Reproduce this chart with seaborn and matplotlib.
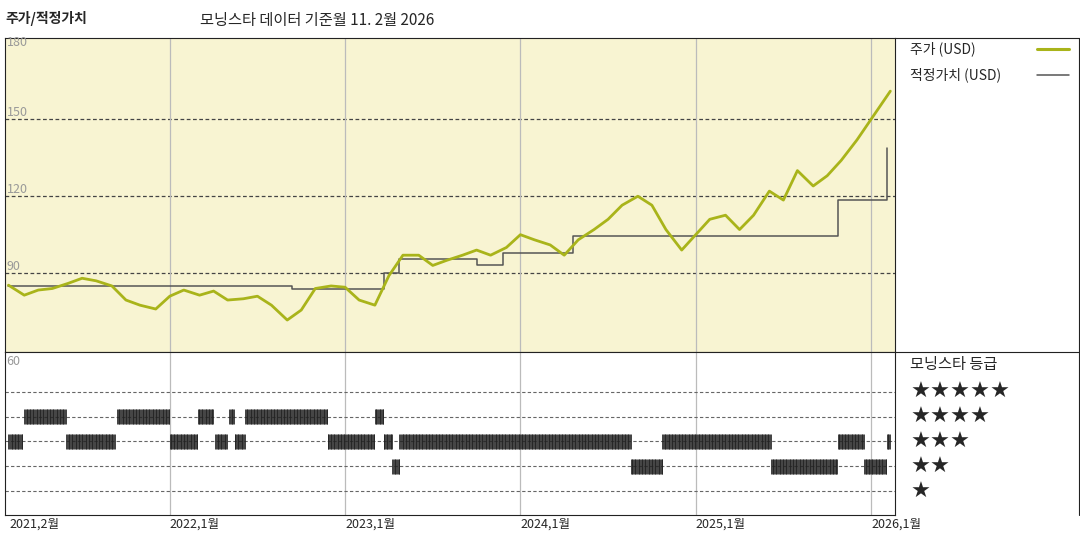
import numpy as np
import pandas as pd
import matplotlib
matplotlib.use("Agg")
import matplotlib.pyplot as plt
import seaborn as sns

sns.set_theme(style="white")
plt.rcParams['font.family'] = ['Noto Sans CJK KR', 'DejaVu Sans']

# --- data (decimal years) ---
price_t = [2021.08,2021.17,2021.25,2021.33,2021.42,2021.5,2021.58,2021.67,2021.75,2021.83,2021.92,
           2022.0,2022.08,2022.17,2022.25,2022.33,2022.42,2022.5,2022.58,2022.67,2022.75,2022.83,2022.92,
           2023.0,2023.08,2023.17,2023.25,2023.33,2023.42,2023.5,2023.58,2023.67,2023.75,2023.83,2023.92,
           2024.0,2024.08,2024.17,2024.25,2024.33,2024.42,2024.5,2024.58,2024.67,2024.75,2024.83,2024.92,
           2025.0,2025.08,2025.17,2025.25,2025.33,2025.42,2025.5,2025.58,2025.67,2025.75,2025.83,2025.92,
           2026.0,2026.11]
price_v = [85.3,81.4,83.4,84,86,88,87,85,79.5,77.5,76,
           81,83.4,81.4,83,79.5,80,81,77.5,71.7,75.6,84,85,
           84.5,79.5,77.5,89,97,97,93,95,97,99,97,100,
           105,103,101,97,103,107,111,116.5,120,116.5,107,99,
           105,111,112.6,107,112.6,122,118.5,130,124,128,134,142,
           150,161]
fair_t = [2021.08,2022.70,2022.70,2023.22,2023.22,2023.31,2023.31,2023.75,2023.75,2023.90,2023.90,
          2024.30,2024.30,2025.81,2025.81,2026.09,2026.09]
fair_v = [85,85,84,84,90,90,95.5,95.5,93,93,98,98,104.5,104.5,118.5,118.5,139]
rate_start = [2021.08,2021.17,2021.41,2021.70,2022.0,2022.16,2022.26,2022.34,2022.37,2022.43,2022.90,
              2023.17,2023.22,2023.27,2023.31,2024.63,2024.81,2025.43,2025.81,2025.96,2026.09]
rate_end = [2021.16,2021.41,2021.69,2022.0,2022.16,2022.25,2022.33,2022.37,2022.43,2022.90,2023.17,
            2023.22,2023.27,2023.31,2024.63,2024.81,2025.43,2025.81,2025.96,2026.09,2026.11]
rate_val = [3,4,3,4,3,4,3,4,3,4,3,4,3,2,3,2,3,2,3,2,3]
tick_pos = [2021.083,2022.0,2023.0,2024.0,2025.0,2026.0]
tick_lab = ["2021,2월","2022,1월","2023,1월","2024,1월","2025,1월","2026,1월"]

OLIVE = "#a9b41a"
BG = "#f8f4d2"
XL = (2021.06, 2026.136)

fig = plt.figure(figsize=(10.8, 5.4), dpi=100)
ax = fig.add_axes([0.0046, 0.348, 0.824, 0.581])
ax2 = fig.add_axes([0.0046, 0.046, 0.824, 0.302])

ax.set_facecolor(BG)
for y in [90, 120, 150]:
    ax.axhline(y, color="#444444", lw=0.9, ls=(0, (3, 2)), zorder=1)
for t in tick_pos[1:]:
    ax.axvline(t, color="#bbbbbb", lw=0.9, zorder=1)
    ax2.axvline(t, color="#bbbbbb", lw=0.9, zorder=1)
fair_df = pd.DataFrame({"t": fair_t, "v": fair_v})
sns.lineplot(data=fair_df, x="t", y="v", ax=ax, color="#555555", lw=1.1, zorder=2,
             estimator=None, sort=False, errorbar=None)
sns.lineplot(x=price_t, y=price_v, ax=ax, color=OLIVE, lw=2.0, zorder=3,
             estimator=None, sort=False, errorbar=None)
ax.set_xlim(*XL); ax.set_ylim(59.2, 181.6)
ax.set_xticks([]); ax.set_yticks([])
ax.set_xlabel(""); ax.set_ylabel("")
for v in [90, 120, 150, 180]:
    ax.text(0.002, v, str(v), transform=ax.get_yaxis_transform(), fontsize=9,
            color="#999999", va="bottom" if v != 180 else "center")

# ratings panel
for r in [1, 2, 3, 4, 5]:
    ax2.axhline(r, color="#666666", lw=0.8, ls=(0, (3, 2)), zorder=1)
for s, e, r in zip(rate_start, rate_end, rate_val):
    ts = np.arange(s, e, 1/365.0 * 1.6)
    ax2.vlines(ts, r - 0.3, r + 0.3, color="#222222", lw=0.6, zorder=2)
ax2.set_xlim(*XL); ax2.set_ylim(0.03, 6.6)
ax2.set_yticks([])
ax2.set_xticks(tick_pos)
ax2.set_xticklabels(tick_lab, fontsize=9)
ax2.tick_params(axis="x", length=0, pad=2)
for lab in ax2.get_xticklabels():
    lab.set_horizontalalignment("left")
ax2.text(0.002, 6.5, "60", transform=ax2.get_yaxis_transform(), fontsize=9, color="#999999", va="top")
for a in (ax, ax2):
    for sp in a.spines.values():
        sp.set_color("#222222"); sp.set_linewidth(0.8)

# titles
fig.text(0.005, 0.965, "주가/적정가치", fontsize=10, fontweight="bold", va="center")
fig.text(0.185, 0.962, "모닝스타 데이터 기준월 11. 2월 2026", fontsize=11, va="center")

# right legend area
fig.add_artist(plt.Line2D([0.829, 1.0], [0.348, 0.348], color="#222222", lw=0.8))
fig.add_artist(plt.Line2D([0.829, 1.0], [0.929, 0.929], color="#222222", lw=0.8))
fig.add_artist(plt.Line2D([0.9995, 0.9995], [0.046, 0.929], color="#222222", lw=0.8))
fig.text(0.843, 0.91, "주가 (USD)", fontsize=10, va="center")
fig.add_artist(plt.Line2D([0.96, 0.99], [0.91, 0.91], color=OLIVE, lw=2.2))
fig.text(0.843, 0.862, "적정가치 (USD)", fontsize=10, va="center")
fig.add_artist(plt.Line2D([0.96, 0.99], [0.862, 0.862], color="#555555", lw=1.1))
fig.text(0.843, 0.325, "모닝스타 등급", fontsize=11, va="center")
for i, n in enumerate([5, 4, 3, 2, 1]):
    fig.text(0.843, 0.275 - i * 0.0465, "★" * n, fontsize=16, va="center",
             family=['DejaVu Sans'])

fig.savefig("out.png", dpi=100)
